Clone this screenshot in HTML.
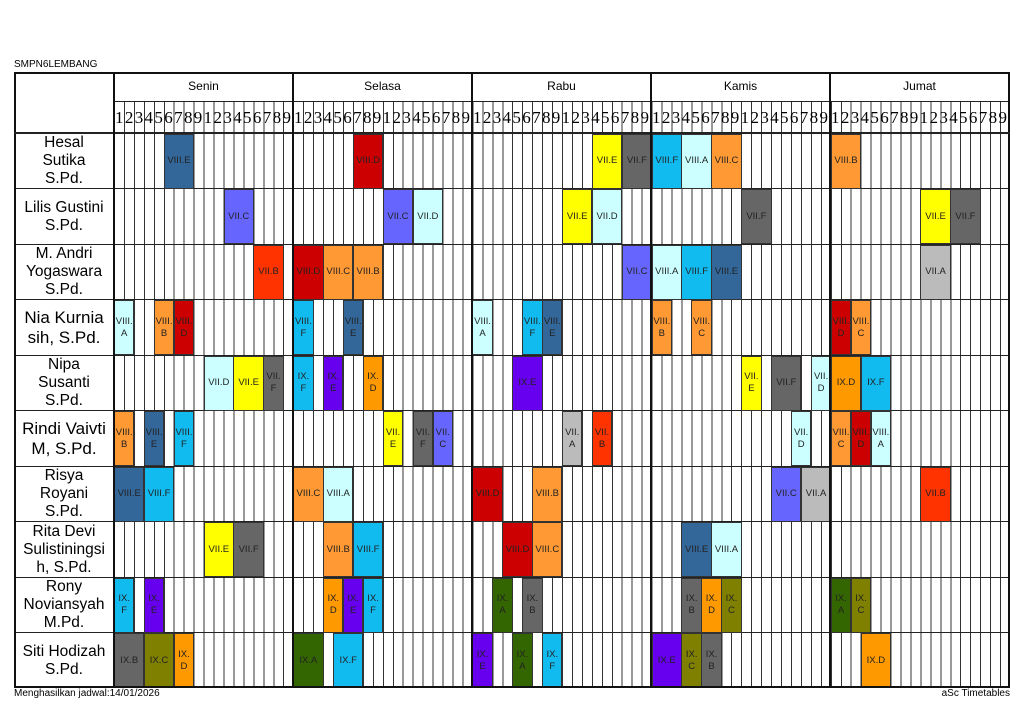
<!DOCTYPE html>
<html><head><meta charset="utf-8"><style>
body{margin:0;width:1024px;height:724px;background:#fff;position:relative;overflow:hidden;font-family:"Liberation Sans",Arial,sans-serif;color:#000}
.a{position:absolute}
.cols{left:114px;top:101px;width:896px;height:587px;background:repeating-linear-gradient(to right,#333 0 1px,transparent 1px 9.9556px)}
.hl{position:absolute;left:14px;width:996px;height:1px;background:#222}
.dl{position:absolute;top:72px;width:2px;height:616px;background:#111}
.day{position:absolute;top:72px;height:29px;line-height:29px;width:179px;text-align:center;font-size:12px}
.num{position:absolute;top:101px;height:32px;line-height:34px;font-family:"Liberation Serif",serif;font-size:17px;letter-spacing:1.35px;white-space:nowrap}
.nm{position:absolute;left:14px;width:100px;height:55px;display:flex;align-items:center;justify-content:center;text-align:center;font-size:15.5px;line-height:18px}
.b{position:absolute;left:calc(114px + var(--c)*9.9556px);width:calc(var(--s)*9.9556px + 0.5px);height:55px;border:0.5px solid #333;box-sizing:border-box;display:flex;align-items:center;justify-content:center;text-align:center;font-size:9.5px;line-height:12px;color:#222;z-index:2}
.db{background:#336699}.rd{background:#CC0000}.ye{background:#FFFF00}.gy{background:#666666}.lb{background:#11BBF0}.lc{background:#CCFFFF}.or{background:#FF9933}.pu{background:#6666FF}.orr{background:#FF3300}.lg{background:#BBBBBB}.vi{background:#6600EE}.od{background:#FF9900}.gr{background:#336600}.ol{background:#808000}
.r0{top:133.5px}.r1{top:189px}.r2{top:244.5px}.r3{top:300px}.r4{top:355.5px}.r5{top:411px}.r6{top:466.5px}.r7{top:522px}.r8{top:577.5px}.r9{top:633px}
</style></head><body>
<div class="a" style="left:14px;top:59px;font-size:10px">SMPN6LEMBANG</div>
<div class="a cols"></div>
<div class="a" style="left:14px;top:72px;width:100px;height:61px;background:#fff"></div>
<div class="a" style="left:14px;top:72px;width:992px;height:612px;border:2px solid #111;z-index:5"></div>
<div class="a" style="left:114px;top:101px;width:896px;height:1px;background:#222"></div>
<div class="hl" style="top:132px;height:2px;z-index:5"></div>
<div class="hl" style="top:188px"></div><div class="hl" style="top:244px"></div><div class="hl" style="top:299px"></div><div class="hl" style="top:355px"></div><div class="hl" style="top:410px"></div><div class="hl" style="top:466px"></div><div class="hl" style="top:521px"></div><div class="hl" style="top:577px"></div><div class="hl" style="top:632px"></div>
<div class="dl" style="left:113px;z-index:5"></div><div class="dl" style="left:292px;z-index:5"></div><div class="dl" style="left:471px;z-index:5"></div><div class="dl" style="left:650px;z-index:5"></div><div class="dl" style="left:829px;z-index:5"></div>
<div class="day" style="left:114px">Senin</div><div class="day" style="left:293px">Selasa</div><div class="day" style="left:472px">Rabu</div><div class="day" style="left:651px">Kamis</div><div class="day" style="left:830px">Jumat</div>
<div class="num" style="left:115px">123456789123456789</div><div class="num" style="left:294px">123456789123456789</div><div class="num" style="left:473px">123456789123456789</div><div class="num" style="left:652px">123456789123456789</div><div class="num" style="left:831px">123456789123456789</div>
<div class="nm r0">Hesal<br>Sutika<br>S.Pd.</div>
<div class="nm r1">Lilis Gustini<br>S.Pd.</div>
<div class="nm r2">M. Andri<br>Yogaswara<br>S.Pd.</div>
<div class="nm r3" style="font-size:17px;line-height:20px">Nia Kurnia<br>sih, S.Pd.</div>
<div class="nm r4">Nipa<br>Susanti<br>S.Pd.</div>
<div class="nm r5" style="font-size:17px;line-height:20px">Rindi Vaivti<br>M, S.Pd.</div>
<div class="nm r6">Risya<br>Royani<br>S.Pd.</div>
<div class="nm r7">Rita Devi<br>Sulistiningsi<br>h, S.Pd.</div>
<div class="nm r8">Rony<br>Noviansyah<br>M.Pd.</div>
<div class="nm r9">Siti Hodizah<br>S.Pd.</div>

<div class="b r0 db" style="--c:5;--s:3">VIII.E</div>
<div class="b r0 rd" style="--c:24;--s:3">VIII.D</div>
<div class="b r0 ye" style="--c:48;--s:3">VII.E</div>
<div class="b r0 gy" style="--c:51;--s:3">VII.F</div>
<div class="b r0 lb" style="--c:54;--s:3">VIII.F</div>
<div class="b r0 lc" style="--c:57;--s:3">VIII.A</div>
<div class="b r0 or" style="--c:60;--s:3">VIII.C</div>
<div class="b r0 or" style="--c:72;--s:3">VIII.B</div>

<div class="b r1 pu" style="--c:11;--s:3">VII.C</div>
<div class="b r1 pu" style="--c:27;--s:3">VII.C</div>
<div class="b r1 lc" style="--c:30;--s:3">VII.D</div>
<div class="b r1 ye" style="--c:45;--s:3">VII.E</div>
<div class="b r1 lc" style="--c:48;--s:3">VII.D</div>
<div class="b r1 gy" style="--c:63;--s:3">VII.F</div>
<div class="b r1 ye" style="--c:81;--s:3">VII.E</div>
<div class="b r1 gy" style="--c:84;--s:3">VII.F</div>

<div class="b r2 orr" style="--c:14;--s:3">VII.B</div>
<div class="b r2 rd" style="--c:18;--s:3">VIII.D</div>
<div class="b r2 or" style="--c:21;--s:3">VIII.C</div>
<div class="b r2 or" style="--c:24;--s:3">VIII.B</div>
<div class="b r2 pu" style="--c:51;--s:3">VII.C</div>
<div class="b r2 lc" style="--c:54;--s:3">VIII.A</div>
<div class="b r2 lb" style="--c:57;--s:3">VIII.F</div>
<div class="b r2 db" style="--c:60;--s:3">VIII.E</div>
<div class="b r2 lg" style="--c:81;--s:3">VII.A</div>

<div class="b r3 lc" style="--c:0;--s:2">VIII.<br>A</div>
<div class="b r3 or" style="--c:4;--s:2">VIII.<br>B</div>
<div class="b r3 rd" style="--c:6;--s:2">VIII.<br>D</div>
<div class="b r3 lb" style="--c:18;--s:2">VIII.<br>F</div>
<div class="b r3 db" style="--c:23;--s:2">VIII.<br>E</div>
<div class="b r3 lc" style="--c:36;--s:2">VIII.<br>A</div>
<div class="b r3 lb" style="--c:41;--s:2">VIII.<br>F</div>
<div class="b r3 db" style="--c:43;--s:2">VIII.<br>E</div>
<div class="b r3 or" style="--c:54;--s:2">VIII.<br>B</div>
<div class="b r3 or" style="--c:58;--s:2">VIII.<br>C</div>
<div class="b r3 rd" style="--c:72;--s:2">VIII.<br>D</div>
<div class="b r3 or" style="--c:74;--s:2">VIII.<br>C</div>

<div class="b r4 lc" style="--c:9;--s:3">VII.D</div>
<div class="b r4 ye" style="--c:12;--s:3">VII.E</div>
<div class="b r4 gy" style="--c:15;--s:2">VII.<br>F</div>
<div class="b r4 lb" style="--c:18;--s:2">IX.<br>F</div>
<div class="b r4 vi" style="--c:21;--s:2">IX.<br>E</div>
<div class="b r4 od" style="--c:25;--s:2">IX.<br>D</div>
<div class="b r4 vi" style="--c:40;--s:3">IX.E</div>
<div class="b r4 ye" style="--c:63;--s:2">VII.<br>E</div>
<div class="b r4 gy" style="--c:66;--s:3">VII.F</div>
<div class="b r4 lc" style="--c:70;--s:2">VII.<br>D</div>
<div class="b r4 od" style="--c:72;--s:3">IX.D</div>
<div class="b r4 lb" style="--c:75;--s:3">IX.F</div>

<div class="b r5 or" style="--c:0;--s:2">VIII.<br>B</div>
<div class="b r5 db" style="--c:3;--s:2">VIII.<br>E</div>
<div class="b r5 lb" style="--c:6;--s:2">VIII.<br>F</div>
<div class="b r5 ye" style="--c:27;--s:2">VII.<br>E</div>
<div class="b r5 gy" style="--c:30;--s:2">VII.<br>F</div>
<div class="b r5 pu" style="--c:32;--s:2">VII.<br>C</div>
<div class="b r5 lg" style="--c:45;--s:2">VII.<br>A</div>
<div class="b r5 orr" style="--c:48;--s:2">VII.<br>B</div>
<div class="b r5 lc" style="--c:68;--s:2">VII.<br>D</div>
<div class="b r5 or" style="--c:72;--s:2">VIII.<br>C</div>
<div class="b r5 rd" style="--c:74;--s:2">VIII.<br>D</div>
<div class="b r5 lc" style="--c:76;--s:2">VIII.<br>A</div>

<div class="b r6 db" style="--c:0;--s:3">VIII.E</div>
<div class="b r6 lb" style="--c:3;--s:3">VIII.F</div>
<div class="b r6 or" style="--c:18;--s:3">VIII.C</div>
<div class="b r6 lc" style="--c:21;--s:3">VIII.A</div>
<div class="b r6 rd" style="--c:36;--s:3">VIII.D</div>
<div class="b r6 or" style="--c:42;--s:3">VIII.B</div>
<div class="b r6 pu" style="--c:66;--s:3">VII.C</div>
<div class="b r6 lg" style="--c:69;--s:3">VII.A</div>
<div class="b r6 orr" style="--c:81;--s:3">VII.B</div>

<div class="b r7 ye" style="--c:9;--s:3">VII.E</div>
<div class="b r7 gy" style="--c:12;--s:3">VII.F</div>
<div class="b r7 or" style="--c:21;--s:3">VIII.B</div>
<div class="b r7 lb" style="--c:24;--s:3">VIII.F</div>
<div class="b r7 rd" style="--c:39;--s:3">VIII.D</div>
<div class="b r7 or" style="--c:42;--s:3">VIII.C</div>
<div class="b r7 db" style="--c:57;--s:3">VIII.E</div>
<div class="b r7 lc" style="--c:60;--s:3">VIII.A</div>

<div class="b r8 lb" style="--c:0;--s:2">IX.<br>F</div>
<div class="b r8 vi" style="--c:3;--s:2">IX.<br>E</div>
<div class="b r8 od" style="--c:21;--s:2">IX.<br>D</div>
<div class="b r8 vi" style="--c:23;--s:2">IX.<br>E</div>
<div class="b r8 lb" style="--c:25;--s:2">IX.<br>F</div>
<div class="b r8 gr" style="--c:38;--s:2">IX.<br>A</div>
<div class="b r8 gy" style="--c:41;--s:2">IX.<br>B</div>
<div class="b r8 gy" style="--c:57;--s:2">IX.<br>B</div>
<div class="b r8 od" style="--c:59;--s:2">IX.<br>D</div>
<div class="b r8 ol" style="--c:61;--s:2">IX.<br>C</div>
<div class="b r8 gr" style="--c:72;--s:2">IX.<br>A</div>
<div class="b r8 ol" style="--c:74;--s:2">IX.<br>C</div>

<div class="b r9 gy" style="--c:0;--s:3">IX.B</div>
<div class="b r9 ol" style="--c:3;--s:3">IX.C</div>
<div class="b r9 od" style="--c:6;--s:2">IX.<br>D</div>
<div class="b r9 gr" style="--c:18;--s:3">IX.A</div>
<div class="b r9 lb" style="--c:22;--s:3">IX.F</div>
<div class="b r9 vi" style="--c:36;--s:2">IX.<br>E</div>
<div class="b r9 gr" style="--c:40;--s:2">IX.<br>A</div>
<div class="b r9 lb" style="--c:43;--s:2">IX.<br>F</div>
<div class="b r9 vi" style="--c:54;--s:3">IX.E</div>
<div class="b r9 ol" style="--c:57;--s:2">IX.<br>C</div>
<div class="b r9 gy" style="--c:59;--s:2">IX.<br>B</div>
<div class="b r9 od" style="--c:75;--s:3">IX.D</div>

<div class="a" style="left:14px;top:688px;font-size:10px">Menghasilkan jadwal:14/01/2026</div>
<div class="a" style="right:14px;top:688px;font-size:10px">aSc Timetables</div>
</body></html>
